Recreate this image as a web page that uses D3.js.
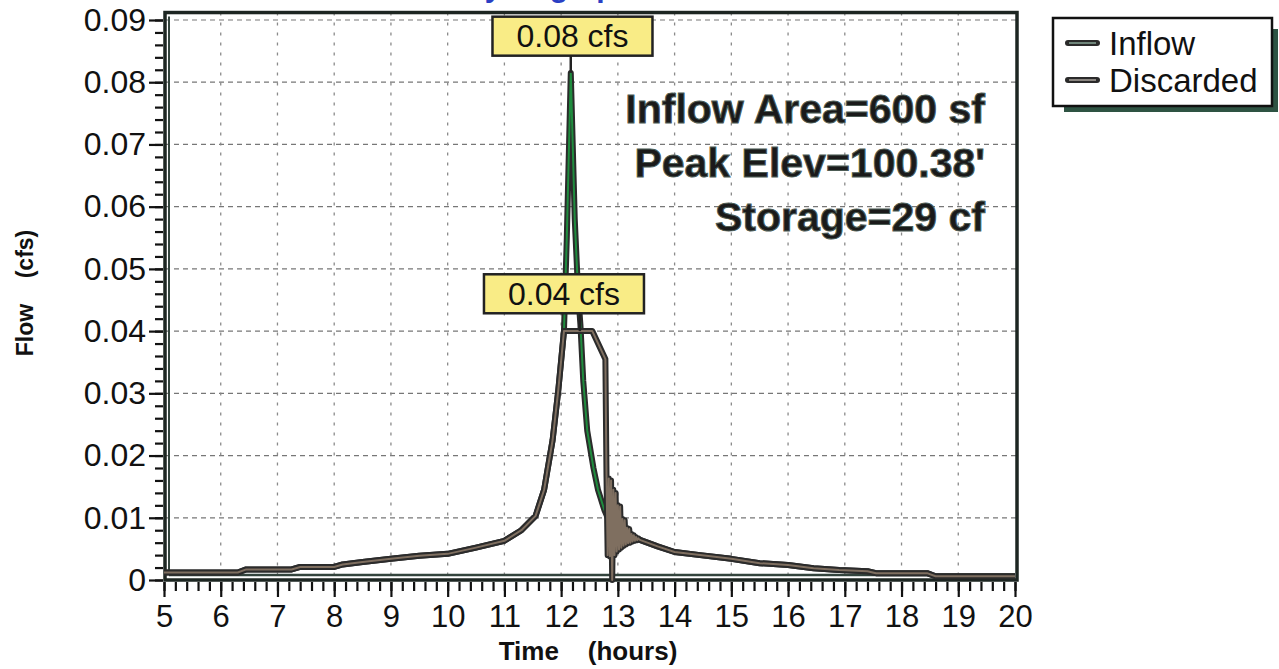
<!DOCTYPE html>
<html>
<head>
<meta charset="utf-8">
<script src="https://cdn.jsdelivr.net/npm/d3@7"></script>
<style>
  html, body { margin: 0; padding: 0; background: #fff; }
  svg { display: block; font-family: "Liberation Sans", Arial, sans-serif; }
  text { white-space: pre; }
</style>
</head>
<body>
<svg id="chart" width="1279" height="669"></svg>
<script>
// shared rising limb (both hydrographs identical up to 0.04 cfs)
const riseTime = [5.0, 6.3, 6.45, 7.25, 7.4, 8.0, 8.15, 8.5, 9.0, 9.5, 10.0, 10.5, 11.0, 11.3, 11.55, 11.7, 11.85, 11.95, 12.05]
const riseFlow = [0.0012, 0.0012, 0.0017, 0.0017, 0.0021, 0.0021, 0.0025, 0.0029, 0.0034, 0.0039, 0.0042, 0.0052, 0.0063, 0.0080, 0.0103, 0.0145, 0.0225, 0.0305, 0.0400]

// inflow spike and falling limb
const inflowPeakTime = [12.10, 12.17, 12.24, 12.30, 12.34, 12.39, 12.46, 12.57, 12.65, 12.76, 12.85, 12.95, 13.10, 13.25]
const inflowPeakFlow = [0.0550, 0.0815, 0.0580, 0.0460, 0.0410, 0.0320, 0.0240, 0.0180, 0.0145, 0.0113, 0.0094, 0.0083, 0.0075, 0.0069]

// discarded: capped at 0.04, then unstable outflow
const discardedPeakTime = [12.55, 12.78, 12.80, 12.82, 12.84, 12.86, 12.88, 12.90, 12.92, 12.94, 12.96, 12.98, 13.00, 13.02, 13.04, 13.06, 13.08, 13.10, 13.12, 13.14, 13.16, 13.18, 13.20, 13.22, 13.24, 13.26, 13.28, 13.30, 13.32, 13.34, 13.36, 13.38]
const discardedPeakFlow = [0.0400, 0.0355, 0.0165, 0.0040, 0.0163, 0.0038, 0.0160, 0.0000, 0.0145, 0.0040, 0.0140, 0.0046, 0.0120, 0.0049, 0.0118, 0.0052, 0.0098, 0.0055, 0.0096, 0.0057, 0.0084, 0.0059, 0.0082, 0.0060, 0.0074, 0.0062, 0.0072, 0.0063, 0.0069, 0.0064, 0.0067, 0.0065]

// shared recession tail
const tailTime = [13.4, 13.7, 14.0, 14.45, 15.0, 15.5, 16.0, 16.45, 16.9, 17.4, 17.55, 18.45, 18.6, 20.0]
const tailFlow = [0.0064, 0.0054, 0.0045, 0.0040, 0.0034, 0.0027, 0.0024, 0.0019, 0.0016, 0.0014, 0.0011, 0.0011, 0.0006, 0.0006]

const xTicks = d3.range(5, 21)
const yTicks = [0, 0.01, 0.02, 0.03, 0.04, 0.05, 0.06, 0.07, 0.08, 0.09]
const infoLines = ['Inflow Area=600 sf', "Peak Elev=100.38'", 'Storage=29 cf']
const legendNames = ['Inflow', 'Discarded']
const peakLabels = [
  { text: '0.08 cfs', t: 12.17, v: 0.0815, boxT: 12.2, boxV: 0.0874 },
  { text: '0.04 cfs', t: 12.33, v: 0.040, boxT: 12.05, boxV: 0.0460 }
]

const zip = (ts, vs) => ts.map((t, i) => [t, vs[i]])
const inflow = zip(riseTime, riseFlow).concat(zip(inflowPeakTime, inflowPeakFlow), zip(tailTime, tailFlow))
const discarded = zip(riseTime, riseFlow).concat(zip(discardedPeakTime, discardedPeakFlow), zip(tailTime, tailFlow))

const svg = d3.select('#chart')
const x = d3.scaleLinear().domain([5, 20]).range([164, 1015])
const y = d3.scaleLinear().domain([0, 0.09]).range([580, 20])

const frameLeft = x(5) + 1
const frameRight = x(20) + 2
const frameTop = y(0.0912)
const frameBottom = y(0)

// blue title, mostly above the visible page
svg.append('text')
  .attr('x', 548).attr('y', -3)
  .attr('text-anchor', 'middle')
  .attr('font-size', 30).attr('font-weight', 'bold')
  .attr('fill', '#2a3fc4')
  .text('Hydrograph')

// grid
const grid = svg.append('g')
grid.selectAll('line.h').data(yTicks.slice(1)).join('line')
  .attr('x1', frameLeft).attr('x2', frameRight)
  .attr('y1', d => y(d)).attr('y2', d => y(d))
  .attr('stroke', '#777').attr('stroke-width', 1.2).attr('stroke-dasharray', '5,4')
grid.selectAll('line.v').data(xTicks.slice(1, -1)).join('line')
  .attr('x1', d => x(d)).attr('x2', d => x(d))
  .attr('y1', frameTop).attr('y2', frameBottom)
  .attr('stroke', '#8a8a8a').attr('stroke-width', 1.3).attr('stroke-dasharray', '3,7')

// axes (ruler style ticks)
const xMinor = d3.range(5, 20.001, 0.2)
const xAxisMinor = d3.axisBottom(x).tickValues(xMinor).tickSize(9).tickFormat('')
const xAxis = d3.axisBottom(x).tickValues(xTicks).tickSize(15).tickPadding(8).tickFormat(d3.format('d'))
svg.append('g').attr('transform', `translate(0,${frameBottom + 2})`).call(xAxisMinor)
const gx = svg.append('g').attr('transform', `translate(0,${frameBottom + 2})`).call(xAxis)
gx.selectAll('text').attr('font-size', 31).attr('fill', '#111').attr('font-family', 'Liberation Sans, Arial')

const yMinor = d3.range(0, 0.0901, 0.002)
const yAxisMinor = d3.axisLeft(y).tickValues(yMinor).tickSize(8).tickFormat('')
const yAxis = d3.axisLeft(y).tickValues(yTicks).tickSize(14).tickPadding(3)
  .tickFormat(d => d === 0 ? '0' : d3.format('.2f')(d))
svg.append('g').attr('transform', `translate(${frameLeft - 2},0)`).call(yAxisMinor)
const gy = svg.append('g').attr('transform', `translate(${frameLeft - 2},0)`).call(yAxis)
gy.selectAll('text').attr('font-size', 32).attr('fill', '#111').attr('font-family', 'Liberation Sans, Arial')

svg.selectAll('.domain').remove()
svg.selectAll('.tick line').attr('stroke', '#111').attr('stroke-width', 2.2)

// frame
svg.append('rect')
  .attr('x', frameLeft).attr('y', frameTop)
  .attr('width', frameRight - frameLeft).attr('height', frameBottom - frameTop)
  .attr('fill', 'none').attr('stroke', '#1d2622').attr('stroke-width', 3.5)
svg.append('line')
  .attr('x1', frameLeft + 4).attr('x2', frameRight - 2)
  .attr('y1', frameBottom - 5).attr('y2', frameBottom - 5)
  .attr('stroke', '#33443d').attr('stroke-width', 2.5)
svg.append('line')
  .attr('x1', frameLeft + 4).attr('x2', frameLeft + 4)
  .attr('y1', frameTop + 4).attr('y2', frameBottom - 5)
  .attr('stroke', '#33443d').attr('stroke-width', 2)

// series
const line = d3.line().x(d => x(d[0])).y(d => y(d[1]))
const series = [
  { data: inflow, inner: '#1f8c3e' },
  { data: discarded, inner: '#7f6f60' }
]
const plot = svg.append('g')
series.forEach(s => {
  plot.append('path').datum(s.data).attr('d', line)
    .attr('fill', 'none').attr('stroke', '#2b2b2b').attr('stroke-width', 6)
    .attr('stroke-linejoin', 'round')
  plot.append('path').datum(s.data).attr('d', line)
    .attr('fill', 'none').attr('stroke', s.inner).attr('stroke-width', 2)
    .attr('stroke-linejoin', 'round')
})

// peak labels
peakLabels.forEach(p => {
  const bx = x(p.boxT), by = y(p.boxV)
  const w = 160, h = 39
  plot.append('line')
    .attr('x1', x(p.t)).attr('x2', x(p.t))
    .attr('y1', by + h / 2).attr('y2', y(p.v))
    .attr('stroke', '#222').attr('stroke-width', 2.5)
  plot.append('rect')
    .attr('x', bx - w / 2).attr('y', by - h / 2)
    .attr('width', w).attr('height', h)
    .attr('fill', '#f9ec86').attr('stroke', '#222').attr('stroke-width', 2.5)
  plot.append('text')
    .attr('x', bx).attr('y', by + 11)
    .attr('text-anchor', 'middle').attr('font-size', 32).attr('fill', '#111')
    .text(p.text)
})

// info block
svg.append('g').selectAll('text').data(infoLines).join('text')
  .attr('x', 985).attr('y', (d, i) => 123 + i * 54)
  .attr('text-anchor', 'end')
  .attr('font-size', 41).attr('font-weight', 'bold')
  .attr('fill', '#1a1a1a').attr('stroke', '#4d5c55').attr('stroke-width', 1)
  .text(d => d)

// axis titles
svg.append('text')
  .attr('x', 588).attr('y', 660)
  .attr('text-anchor', 'middle').attr('font-size', 26).attr('font-weight', 'bold').attr('fill', '#111')
  .text('Time    (hours)')
svg.append('text')
  .attr('transform', 'translate(33,293) rotate(-90)')
  .attr('text-anchor', 'middle').attr('font-size', 23).attr('font-weight', 'bold').attr('fill', '#111')
  .text('Flow    (cfs)')

// legend
const lg = svg.append('g')
lg.append('rect').attr('x', 1064).attr('y', 29).attr('width', 214).attr('height', 83).attr('fill', '#2e5343')
lg.append('rect').attr('x', 1053).attr('y', 18).attr('width', 219).attr('height', 88)
  .attr('fill', '#fff').attr('stroke', '#111').attr('stroke-width', 2.5)
legendNames.forEach((name, i) => {
  const ly = 43 + i * 37
  lg.append('line').attr('x1', 1068).attr('x2', 1097).attr('y1', ly).attr('y2', ly)
    .attr('stroke', '#2a2a2a').attr('stroke-width', 6).attr('stroke-linecap', 'round')
  lg.append('line').attr('x1', 1069).attr('x2', 1096).attr('y1', ly).attr('y2', ly)
    .attr('stroke', i === 0 ? '#6f857a' : '#8a8580').attr('stroke-width', 2)
  lg.append('text').attr('x', 1109).attr('y', ly + 12)
    .attr('font-size', 33).attr('fill', '#111').text(name)
})
</script>
</body>
</html>
